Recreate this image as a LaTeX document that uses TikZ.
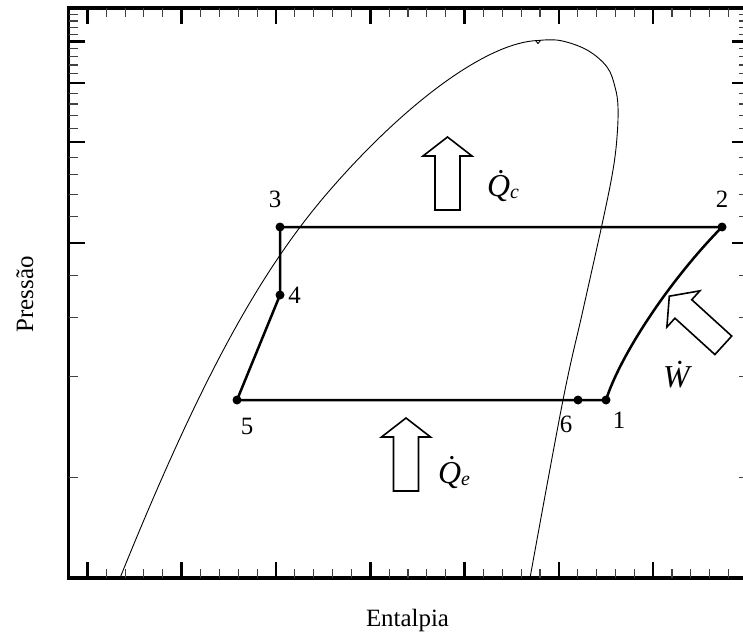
\documentclass[tikz,border=0pt]{standalone}
\usepackage{fontspec}
\setmainfont{Liberation Serif}
\begin{document}
\begin{tikzpicture}[x=1bp,y=-1bp,
  axisline/.style={line width=3.5bp, line join=miter},
  majortick/.style={line width=2.5bp},
  minortick/.style={line width=1.1bp, black!75},
  cycleline/.style={line width=2.5bp, line join=round},
  domeline/.style={line width=0.9bp},
  blockarrow/.style={draw, line width=1.6bp, fill=white, line join=miter},
  ptdot/.style={circle, fill=black, inner sep=0pt, minimum size=9bp},
  lbl/.style={font=\fontsize{25}{25}\selectfont, inner sep=0pt},
  qlbl/.style={font=\fontsize{32}{32}\selectfont\itshape, inner sep=0pt},
  blockarr/.pic={\draw[blockarrow] (-12.5,0) -- (-12.5,-54) -- (-24.5,-54) -- (0,-73) -- (24.5,-54) -- (12.5,-54) -- (12.5,0) -- cycle;}
]
\useasboundingbox (0,0) rectangle (743,634);

% frame
\draw[axisline] (68.5,8) rectangle (747.5,578);

% left and right ticks (log scale)
\foreach \p in {2,4,6,8,12,14,16,18,22,24,26,28,32,34,36,38,42,44,46,48}{
  \pgfmathsetmacro\yy{578-335*ln(\p)/2.302585}
  \draw[minortick] (68.5,\yy) -- ++(9,0);
  \draw[minortick] (747.5,\yy) -- ++(-9,0);
}
\foreach \p in {10,20,30,40}{
  \pgfmathsetmacro\yy{578-335*ln(\p)/2.302585}
  \draw[majortick] (68.5,\yy) -- ++(16,0);
  \draw[majortick] (747.5,\yy) -- ++(-16,0);
}
% top and bottom ticks
\foreach \m in {0,...,6}{
  \pgfmathsetmacro\xx{68.5+18.86*(1+5*\m)}
  \draw[majortick] (\xx,578) -- ++(0,-16);
  \draw[majortick] (\xx,8) -- ++(0,16);
  \foreach \j in {1,2,3,4}{
    \pgfmathsetmacro\xm{68.5+18.86*(1+5*\m+\j)}
    \draw[minortick] (\xm,578) -- ++(0,-9);
    \draw[minortick] (\xm,8) -- ++(0,9);
  }
}

% saturation dome
\draw[domeline] (120,578) .. controls (200,380) and (260,270.5) .. (330,190)
  .. controls (410,98) and (490,42) .. (538,40.5);
\draw[domeline] plot[smooth, tension=0.6] coordinates {(538,40.5) (560,40.5) (587,50) (607,67) (615,87) (618,107) (617,137) (613,170) (603,220) (583,310) (563,400) (530,578)};
\draw[domeline] (535.5,40.5) -- (538,43.5) -- (540.5,40.5);

% cycle
\coordinate (p1) at (606,400);
\coordinate (p2) at (722,227);
\coordinate (p3) at (280,227);
\coordinate (p4) at (280,295);
\coordinate (p5) at (237,400);
\coordinate (p6) at (578,400);
\draw[cycleline] (p5) -- (p6) -- (p1) .. controls (620,356) and (668,282) .. (p2) -- (p3) -- (p4) -- (p5);
\foreach \q in {p1,p2,p3,p4,p5,p6}{\node[ptdot] at (\q) {};}

% point labels
\node[lbl] (l1) at (619,420) {1};
\node[lbl] (l2) at (722,199) {2};
\node[lbl] (l3) at (275,199) {3};
\node[lbl] (l4) at (294.5,295) {4};
\node[lbl] (l5) at (247,426) {5};
\node[lbl] (l6) at (566,424) {6};

% heat / work arrows
\pic at (447.5,210) {blockarr};
\pic at (406,491) {blockarr};
\pic[rotate=47.7] at (723.3,345.3) {blockarr};

\node[qlbl, anchor=base west] (qc) at (487,197) {\.{Q}\raisebox{-2bp}{\fontsize{20}{20}\selectfont c}};
\node[qlbl, anchor=base west] (qe) at (438,483) {\.{Q}\raisebox{-2bp}{\fontsize{20}{20}\selectfont e}};
\node[qlbl, anchor=base west] (w) at (663,387) {\.{W}};

% axis titles
\node[lbl, rotate=90, anchor=base] (ylab) at (33,294.5) {Pressão};
\node[lbl, anchor=base] (xlab) at (407.5,626.5) {Entalpia};
\end{tikzpicture}
\end{document}
